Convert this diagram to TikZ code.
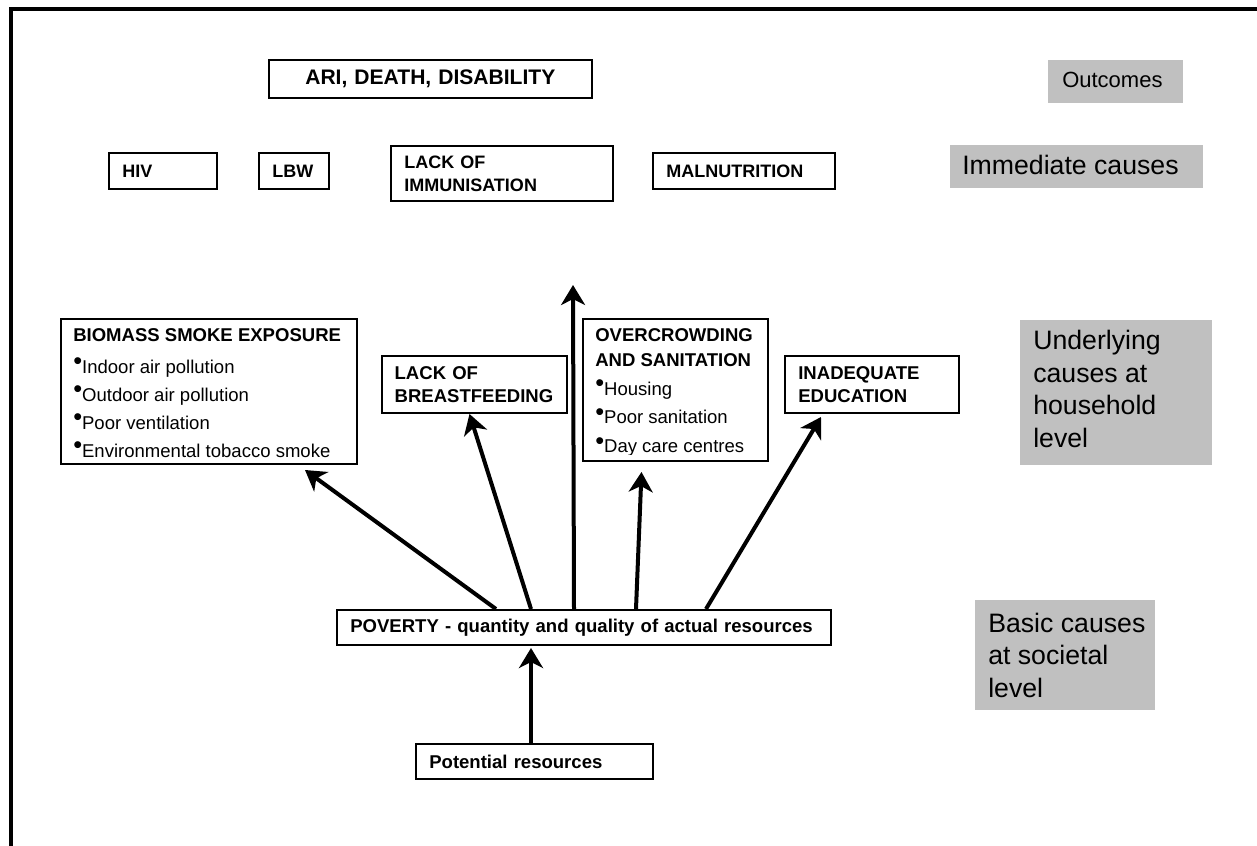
\documentclass[tikz,border=0pt]{standalone}
\usepackage{fontspec}
\setmainfont{Liberation Sans}
\usepackage{xcolor}
\usetikzlibrary{arrows.meta,calc}
\definecolor{boxgrey}{HTML}{C0C0C0}
\newcommand{\bul}{\raisebox{2.6pt}{\fontsize{19}{19}\selectfont\textbullet}}

\begin{document}
\begin{tikzpicture}[x=0.75pt,y=-0.75pt,
    cbox/.style={draw, line width=1.5pt, anchor=north west, inner xsep=10pt, inner ysep=0pt,
        align=left, font=\fontsize{13.9}{17.5}\selectfont\bfseries},
    imm/.style={cbox, minimum height=27pt, font=\fontsize{13.5}{17.5}\selectfont\bfseries},
    listbox/.style={draw, line width=1.5pt, anchor=north west, inner sep=0pt},
    gbox/.style={fill=boxgrey, anchor=north west, inner sep=0pt},
    ltxt/.style={anchor=base west, inner sep=0pt},
    gtxt/.style={ltxt, font=\fontsize{20}{24.5}\selectfont},
    arr/.style={line width=3pt, -{Stealth[length=15pt,width=18pt,inset=4.5pt]}}]
        \useasboundingbox (0,0) rectangle (1257,846);
        \draw[line width=3pt] (11.3,846) -- (11.3,8.5) -- (1257,8.5);

        % outcomes and immediate causes
        \node[cbox, align=center, text width=222pt, minimum height=28.5pt,
            font=\fontsize{15.8}{19}\selectfont\bfseries] (ari) at (268,59) {ARI, DEATH, DISABILITY};
        \node[imm, text width=61pt] (hiv) at (108,152) {HIV};
        \node[imm, text width=32.5pt] (lbw) at (258,152) {LBW};
        \node[imm, text width=146.5pt, minimum height=41.25pt] (immunisation) at (390,145) {LACK OF\\IMMUNISATION};
        \node[imm, text width=116.5pt] (malnutrition) at (652,152) {MALNUTRITION};

        % levels on the right
        \node[gbox, minimum width=101.25pt, minimum height=32.25pt] (outcomes) at (1048,60) {};
        \node[gtxt, font=\fontsize{16.5}{19}\selectfont] (outcomestext) at (1062,87.5) {Outcomes};
        \node[gbox, minimum width=189.75pt, minimum height=32.25pt] (immediate) at (950,145) {};
        \node[gtxt] (immediatetext) at (962,174.5) {Immediate causes};
        \node[gbox, minimum width=144pt, minimum height=108.75pt] (underlying) at (1020,320) {};
        \node[gtxt] (underlyingtext) at (1033,349.5) {\parbox[t]{150pt}{Underlying\\causes at\\household\\level}};
        \node[gbox, minimum width=135pt, minimum height=82.5pt] (basic) at (975,600) {};
        \node[gtxt] (basictext) at (988,632) {\parbox[t]{150pt}{Basic causes\\at societal\\level}};

        % underlying causes
        \node[listbox, minimum width=222pt, minimum height=108.75pt] (biomass) at (60,318) {};
        \begin{scope}
            \clip (biomass.north west) rectangle ($(biomass.south east)+(0,-8)$);
            \node[ltxt] (biomasstext) at (73,341.7) {\parbox[t]{260pt}{\fontsize{13.9}{21}\selectfont
                \textbf{BIOMASS SMOKE EXPOSURE}\\[2.7pt]
                \bul Indoor air pollution\\
                \bul Outdoor air pollution\\
                \bul Poor ventilation\\
                \bul Environmental tobacco smoke}};
        \end{scope}
        \node[cbox, inner xsep=9.5pt, text width=119.75pt, minimum height=42.75pt] (breastfeeding) at (381,355) {LACK OF\\BREASTFEEDING};
        \node[listbox, minimum width=138.75pt, minimum height=106.5pt] (crowding) at (582,318) {};
        \begin{scope}
            \clip (crowding.north west) rectangle ($(crowding.south east)+(0,-8)$);
            \node[ltxt] (crowdingtext) at (595,341.5) {\parbox[t]{130pt}{\fontsize{13.9}{21.5}\selectfont
                \textbf{OVERCROWDING}\\[-2.75pt]
                \textbf{AND SANITATION}\\
                \bul Housing\\
                \bul Poor sanitation\\
                \bul Day care centres}};
        \end{scope}
        \node[cbox, text width=110.5pt, minimum height=42.75pt] (education) at (784,355) {INADEQUATE\\EDUCATION};

        % basic causes
        \node[cbox, text width=350.5pt, minimum height=26.25pt] (poverty) at (336,609) {POVERTY - quantity and quality of actual resources};
        \node[cbox, text width=157.75pt, minimum height=26.25pt] (potential) at (415,743) {Potential resources};

        % arrows
        \coordinate (arrowtop) at (573,285);
        \draw[arr] ($(poverty.north)+(-88,0)$) -- ($(biomass.south east)+(-53,5)$);
        \draw[arr] ($(poverty.north)+(-53,0)$) -- ($(breastfeeding.south)+(-5,0)$);
        \draw[arr] ($(poverty.north)+(-10,0)$) -- (arrowtop);
        \draw[arr] ($(poverty.north)+(52,0)$) -- ($(crowding.south)+(-34,10)$);
        \draw[arr] ($(poverty.north)+(122,0)$) -- ($(education.south)+(-51,3)$);
        \draw[arr] ($(potential.north)+(-3.5,0)$) -- ($(poverty.south)+(-53,2)$);
\end{tikzpicture}
\end{document}
